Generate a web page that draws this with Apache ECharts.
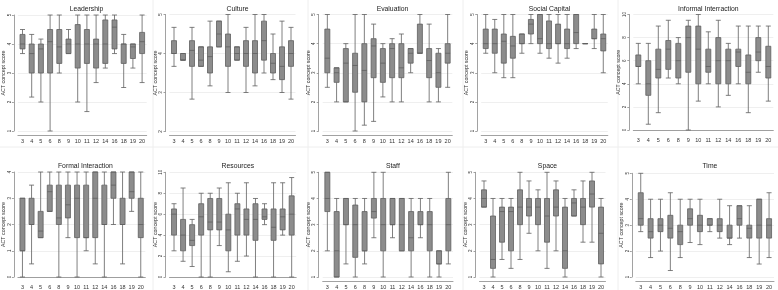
<!DOCTYPE html>
<html>
<head>
<meta charset="utf-8">
<script src="https://cdn.jsdelivr.net/npm/echarts@6/dist/echarts.min.js"></script>
<style>
  html, body { margin: 0; padding: 0; background: #fff; }
  #main { width: 778px; height: 290px; }
</style>
</head>
<body>
<div id="main"></div>
<script>
// x categories (same in every panel)
var categories = ['3', '4', '5', '6', '8', '9', '10', '11', '12', '14', '16', '18', '19', '20'];

// each box: [lower whisker, Q1, median, Q3, upper whisker]
var leadership = [
  [3.67, 3.83, 4, 4.33, 4.5], [2.17, 3, 3.67, 4, 4.33], [2, 3, 3.83, 4, 4.17], [1, 3, 4.08, 4.5, 5],
  [3, 3.33, 3.9, 4.5, 5], [3.67, 3.67, 4, 4.17, 4.5], [2, 3.17, 4, 4.67, 5], [1.67, 3.33, 4, 4.5, 5],
  [2.67, 3.17, 4, 4.17, 5], [3.17, 3.33, 4, 4.83, 5], [3.67, 3.83, 4.58, 4.83, 5], [2.5, 3.33, 4, 4, 4.33],
  [3.17, 3.5, 3.9, 4, 4], [2.67, 3.67, 4.08, 4.4, 5]
];
var culture = [
  [3.67, 4, 4, 4.33, 4.67], [3.83, 3.83, 3.83, 4, 4], [2.83, 3.67, 4.08, 4.33, 4.67], [3.67, 3.67, 3.83, 4.17, 4.17],
  [3.17, 3.5, 3.92, 4.17, 4.83], [4.17, 4.17, 4.5, 4.83, 4.83], [3, 3.67, 4.17, 4.5, 5], [3.83, 3.83, 4, 4.17, 4.17],
  [3, 3.67, 4, 4.33, 4.67], [3.17, 3.5, 4, 4.33, 5], [3.5, 3.83, 4.33, 4.83, 5], [3.33, 3.5, 3.75, 4, 4.5],
  [3, 3.33, 3.67, 4.17, 4.83], [2.83, 3.67, 4, 4.33, 4.67]
];
var evaluation = [
  [2.5, 3, 3.5, 4.5, 5], [2, 2.67, 3, 3.17, 3.17], [2, 2, 3.33, 3.83, 4], [1, 2.33, 3.25, 3.67, 5],
  [1.2, 2, 3.08, 4, 5], [1.33, 2.83, 3.92, 4.17, 4.67], [2.17, 2.67, 3.33, 3.83, 4], [2, 2.83, 3.83, 4, 4.17],
  [2, 2.83, 3.17, 4, 4.33], [3, 3.33, 3.67, 3.83, 3.83], [3.67, 3.67, 3.67, 4.67, 5], [2, 2.83, 3.42, 3.83, 4.67],
  [2, 2.5, 3, 3.67, 3.83], [2.5, 3.33, 3.67, 4, 5]
];
var socialCapital = [
  [3.67, 3.83, 4, 4.5, 5], [3, 3.67, 4, 4.5, 4.83], [2.83, 3.33, 4.08, 4.33, 5], [2.83, 3.5, 3.92, 4.25, 5],
  [3.67, 4, 4, 4.33, 4.33], [4, 4.33, 4.67, 4.83, 5], [3.67, 4, 4.17, 5, 5], [3.5, 3.83, 4, 4.78, 5],
  [3.33, 4, 4, 4.67, 5], [3.5, 3.83, 4, 4.5, 5], [3.83, 4, 4.38, 5, 5], [4, 4, 4, 4, 4],
  [3.83, 4.17, 4.17, 4.5, 5], [3, 3.75, 4.17, 4.33, 5]
];
var informalInteraction = [
  [4, 5.5, 5.5, 6.5, 7.5], [0.5, 3, 4, 6, 7.5], [1.5, 4.5, 5.25, 7, 9], [4.5, 5.25, 7, 7.75, 9.5],
  [4, 4.5, 6, 7.5, 8], [0, 5, 8, 9, 9.5], [2.5, 4, 7, 9, 10], [4, 5, 5.5, 7, 8.5],
  [2, 4, 6, 8, 9.5], [3, 4, 6, 7, 7.5], [4, 5.5, 6.75, 7, 9], [1.5, 4, 5, 6.5, 9],
  [5, 6, 6.75, 8, 9], [2.5, 4.5, 5.5, 7.25, 9]
];
var formalInteraction = [
  [0, 1, 1, 3, 3], [0.5, 2, 2, 3, 3.5], [1.5, 1.5, 1.75, 2.5, 4], [2.5, 2.5, 3.25, 3.5, 4],
  [0, 2, 2.25, 3.5, 4], [1.5, 2.25, 2.75, 3.5, 4], [0, 1.5, 3, 3.5, 4], [1, 1.5, 1.5, 3.5, 4],
  [0.5, 1.5, 3, 4, 4], [0, 2, 2, 3.5, 4], [2, 3, 3.5, 4, 4], [0.5, 2, 2, 3, 4],
  [2.5, 3, 3.25, 4, 4], [0, 1.5, 2, 3, 4]
];
var resources = [
  [2.5, 4, 6, 6.5, 7], [1.5, 2.5, 4, 5.5, 8.5], [1, 3, 3.5, 5, 5.5], [0, 4, 5.75, 7, 8],
  [0, 4.5, 5.25, 7.5, 8], [3, 4.5, 5.25, 7.5, 8.5], [0.5, 2.5, 4.5, 6, 9], [1.5, 4, 6.5, 7, 8],
  [2, 4, 5.5, 6.5, 9], [0, 3.5, 5.5, 7, 7.5], [5, 5.5, 5.75, 6.5, 7], [0, 3.5, 4.75, 6.5, 9],
  [4, 4.5, 5.75, 6.5, 9], [0, 4, 6, 7.75, 9.5]
];
var staff = [
  [2, 3.5, 4, 5, 5], [1, 1, 2, 3.5, 4], [1.5, 3, 3, 4, 4], [1, 1.75, 3, 3.75, 4],
  [1.5, 2, 2, 3.5, 4], [2.5, 3.25, 3.5, 4, 5], [1, 2, 3, 4, 5], [2.5, 3, 3, 4, 4],
  [2, 2, 3, 4, 4], [1, 2, 2.5, 3.5, 4], [2.5, 3, 3, 3.5, 4], [1, 2, 3, 3.5, 4],
  [1, 1.5, 1.5, 2, 2], [1.5, 2, 3, 4, 5]
];
var space = [
  [3.67, 3.67, 4, 4.33, 4.67], [1, 1.33, 1.67, 3.33, 4], [1.67, 2.33, 3.5, 3.67, 4], [1.33, 2, 3.5, 3.67, 4],
  [1.67, 3, 3.67, 4.33, 5], [2.67, 3.33, 3.67, 4, 4.67], [2, 3, 3.67, 4, 4.33], [1.33, 2.33, 3.33, 4, 5],
  [2, 3.33, 3.67, 4.33, 4.67], [1, 1.33, 2, 3.67, 4], [3.33, 3.33, 3.83, 4, 4.33], [2.33, 3, 3.67, 4, 4.67],
  [2.33, 3.67, 4.17, 4.67, 5], [1, 1.5, 2.67, 3.67, 4]
];
var time = [
  [2.75, 3, 3.25, 4.25, 5], [1.75, 2.5, 2.75, 3.25, 4], [2, 2.75, 3, 3.25, 4], [1.25, 2.5, 2.88, 3.38, 4.25],
  [1.75, 2.25, 2.75, 3, 4], [2.33, 3, 3.25, 3.63, 4], [2.25, 2.75, 3, 3.38, 4], [2.75, 3, 3, 3.25, 3.25],
  [2.5, 2.75, 3, 3.25, 4], [2.25, 2.5, 2.5, 3, 3.75], [2.5, 3, 3.25, 3.75, 3.75], [1.75, 2.5, 2.88, 3, 3.75],
  [1.5, 2.5, 3, 4, 4], [1.75, 2.5, 3, 3.25, 4.25]
];

// panel list: title, data, y range, plot box [left, right, top, bottom]
var panels = [
  { name: 'Leadership', data: leadership, min: 1, max: 5, step: 1, box: [16.3, 146.7, 15, 131] },
  { name: 'Culture', data: culture, min: 2, max: 5, step: 1, box: [169.5, 295.5, 14.5, 131.5] },
  { name: 'Evaluation', data: evaluation, min: 1, max: 5, step: 1, box: [322.7, 452.3, 14.5, 131] },
  { name: 'Social Capital', data: socialCapital, min: 1, max: 5, step: 1, box: [481.2, 607.8, 14.5, 131] },
  { name: 'Informal Interraction', data: informalInteraction, min: 0, max: 10, step: 2, box: [633.3, 773.3, 14.5, 130] },
  { name: 'Formal Interaction', data: formalInteraction, min: 0, max: 4, step: 1, box: [15.4, 145.3, 172, 277.5] },
  { name: 'Resources', data: resources, min: 0, max: 10, step: 2, box: [169.5, 296.2, 172.3, 277.5] },
  { name: 'Staff', data: staff, min: 1, max: 5, step: 1, box: [322.7, 453, 172.3, 277.5] },
  { name: 'Space', data: space, min: 1, max: 5, step: 1, box: [479.5, 605.5, 172.3, 277.5] },
  { name: 'Time', data: time, min: 1, max: 5, step: 1, box: [635.8, 774, 173.3, 277.7] }
];

var axisColor = '#8a8a8a';
var textColor = '#333';
var grids = [], xAxes = [], yAxes = [], series = [], titles = [];

panels.forEach(function(p, i) {
  var b = p.box;
  grids.push({ left: b[0], width: b[1] - b[0], top: b[2], height: b[3] - b[2] });
  titles.push({
    text: p.name,
    left: (b[0] + b[1]) / 2,
    top: i < 5 ? 1 : 158,
    textAlign: 'center',
    textStyle: { fontFamily: 'Liberation Sans', fontSize: 6.8, fontWeight: 'normal', color: '#222' }
  });
  xAxes.push({
    type: 'category',
    gridIndex: i,
    data: categories,
    offset: 4,
    axisLine: { lineStyle: { color: axisColor, width: 0.8 } },
    axisTick: { show: false },
    axisLabel: { interval: 0, fontSize: 5.5, margin: 3, color: textColor, fontFamily: 'Liberation Sans' },
    splitLine: { show: false }
  });
  yAxes.push({
    type: 'value',
    gridIndex: i,
    min: p.min,
    max: p.max,
    interval: p.step,
    offset: 4,
    name: 'ACT concept score',
    nameLocation: 'middle',
    nameGap: 6,
    nameTextStyle: { fontSize: 5.3, color: textColor, fontFamily: 'Liberation Sans' },
    axisLine: { show: true, lineStyle: { color: axisColor, width: 0.8 } },
    axisTick: { show: true, length: 2, lineStyle: { color: axisColor, width: 0.8 } },
    axisLabel: { rotate: 90, fontSize: 4.5, margin: 2, color: textColor, fontFamily: 'Liberation Sans' },
    splitLine: { lineStyle: { color: '#ebebeb', width: 0.8 } }
  });
  series.push({
    type: 'boxplot',
    name: p.name,
    xAxisIndex: i,
    yAxisIndex: i,
    data: p.data,
    boxWidth: [5, 5],
    itemStyle: { color: '#8c8c8c', borderColor: '#606060', borderWidth: 0.8 },
    emphasis: { disabled: true }
  });
});

// faint separators between the small charts
var seps = [];
[153, 308, 463, 618].forEach(function(x) {
  seps.push({ type: 'line', shape: { x1: x, y1: 0, x2: x, y2: 290 }, style: { stroke: '#eeeeee', lineWidth: 1 }, silent: true });
});
seps.push({ type: 'line', shape: { x1: 0, y1: 147, x2: 778, y2: 147 }, style: { stroke: '#eeeeee', lineWidth: 1 }, silent: true });

var chart = echarts.init(document.getElementById('main'));
chart.setOption({
  animation: false,
  backgroundColor: '#fff',
  title: titles,
  grid: grids,
  xAxis: xAxes,
  yAxis: yAxes,
  series: series,
  graphic: seps
});
</script>
</body>
</html>
